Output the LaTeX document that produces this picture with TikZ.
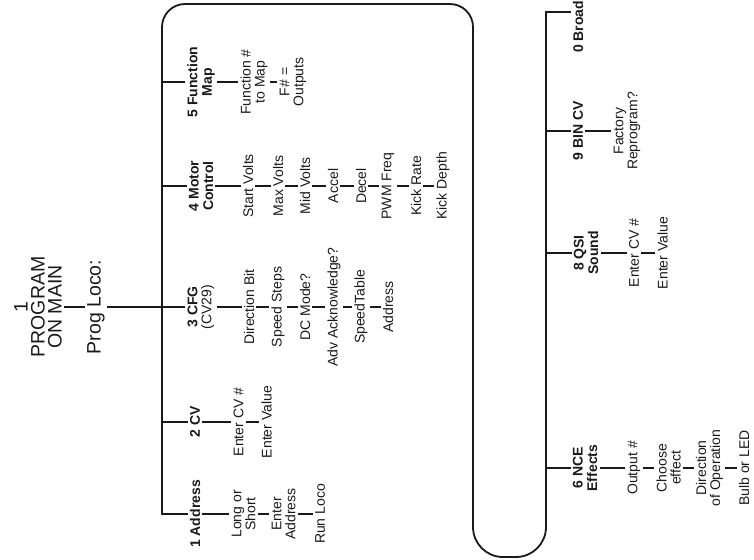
\documentclass[tikz,border=0pt]{standalone}
\usepackage{fontspec}
\setmainfont{Liberation Sans}
\definecolor{ink}{HTML}{1A1A1A}
\begin{document}
\begin{tikzpicture}[x=1pt,y=-1pt,
  txt/.style={rotate=90, align=center, inner xsep=1pt, inner ysep=3pt, text=ink, font=\fontsize{14}{14}\selectfont},
  lbl/.style={txt, font=\bfseries\fontsize{14}{14.5}\selectfont},
  bigtxt/.style={txt, font=\fontsize{19.5}{17}\selectfont},
  ln/.style={draw=ink, line width=1.8pt, line cap=rect}]
\useasboundingbox (0,0) rectangle (754,559);

% title
\node[bigtxt] (T) at (38,307) {1\\PROGRAM\\ON MAIN};
\node[bigtxt] (P) at (96,307) {Prog Loco:};

% bus coordinates
\coordinate (j1) at (162,514);
\coordinate (j2) at (162,422);
\coordinate (j3) at (162,307);
\coordinate (j4) at (162,186);
\coordinate (j5) at (162,82);
\coordinate (c1) at (162,4);
\coordinate (c2) at (473,4);
\coordinate (cm) at (473,300);
\coordinate (c3) at (473,557);
\coordinate (c4) at (546,557);
\coordinate (k6) at (546,468);
\coordinate (k8) at (546,253);
\coordinate (k9) at (546,131);
\coordinate (k0) at (546,12);

% left labels
\node[lbl] (A1) at (195,514) {1 Address};
\node[lbl] (A2) at (195,422) {2 CV};
\node[txt] (A3) at (201,307) {\textbf{3 CFG}\\(CV29)};
\node[lbl] (A4) at (201,186) {4 Motor\\Control};
\node[lbl] (A5) at (201,82) {5 Function\\Map};

% column 1
\node[txt] (a11) at (243.5,514) {Long or\\Short};
\node[txt] (a12) at (283.5,514) {Enter\\Address};
\node[txt] (a13) at (320,514) {Run Loco};
% column 2
\node[txt] (a21) at (238.5,422) {Enter CV \#};
\node[txt] (a22) at (266.5,422) {Enter Value};
% column 3
\node[txt] (a31) at (249,307) {Direction Bit};
\node[txt] (a32) at (278,307) {Speed Steps};
\node[txt] (a33) at (305,307) {DC Mode?};
\node[txt] (a34) at (334,307) {Adv Acknowledge?};
\node[txt] (a35) at (361,307) {SpeedTable};
\node[txt] (a36) at (388,307) {Address};
% column 4
\node[txt] (a41) at (248,186) {Start Volts};
\node[txt] (a42) at (278,186) {Max Volts};
\node[txt] (a43) at (305,186) {Mid Volts};
\node[txt] (a44) at (333,186) {Accel};
\node[txt] (a45) at (361,186) {Decel};
\node[txt] (a46) at (388,186) {PWM Freq};
\node[txt] (a47) at (416,186) {Kick Rate};
\node[txt] (a48) at (443,186) {Kick Depth};
% column 5
\node[txt] (a51) at (254,82) {Function \#\\to Map};
\node[txt] (a52) at (293,82) {F\# =\\Outputs};

% right labels
\node[lbl, anchor=west, inner xsep=0pt] (B0) at (578,53) {0 Broad};
\node[lbl] (B9) at (578,131) {9 BIN CV};
\node[lbl] (B8) at (586,253) {8 QSI\\Sound};
\node[lbl] (B6) at (585,468) {6 NCE\\Effects};

\node[txt] (b91) at (627,131) {Factory\\Reprogram?};
\node[txt] (b81) at (634,253) {Enter CV \#};
\node[txt] (b82) at (662.5,253) {Enter Value};
\node[txt] (b61) at (634,468) {Output \#};
\node[txt] (b62) at (668.5,468) {Choose\\effect};
\node[txt] (b63) at (709.5,468) {Direction\\of Operation};
\node[txt] (b64) at (744,468) {Bulb or LED};

% trunk
\draw[ln] (T.south) -- (P.north);
\draw[ln] (P.south) -- (j3);
\draw[ln, rounded corners=23pt] (j1) -- (c1) -- (c2) -- (cm);
\draw[ln, rounded corners=30pt] (cm) -- (c3) -- (c4) -- (k0);
\draw[ln] (k0) -- (B0.north |- k0);

% branches
\draw[ln] (j1) -- (A1.north);
\draw[ln] (j2) -- (A2.north);
\draw[ln] (j3) -- (A3.north);
\draw[ln] (j4) -- (A4.north);
\draw[ln] (j5) -- (A5.north);
\draw[ln] (k9) -- (B9.north);
\draw[ln] (k8) -- (B8.north);
\draw[ln] (k6) -- (B6.north);

% chains
\draw[ln] (A1.south) -- (a11.north) (a11.south) -- (a12.north) (a12.south) -- (a13.north);
\draw[ln] (A2.south) -- (a21.north) (a21.south) -- (a22.north);
\draw[ln] (A3.south) -- (a31.north) (a31.south) -- (a32.north) (a32.south) -- (a33.north)
  (a33.south) -- (a34.north) (a34.south) -- (a35.north) (a35.south) -- (a36.north);
\draw[ln] (A4.south) -- (a41.north) (a41.south) -- (a42.north) (a42.south) -- (a43.north)
  (a43.south) -- (a44.north) (a44.south) -- (a45.north) (a45.south) -- (a46.north)
  (a46.south) -- (a47.north) (a47.south) -- (a48.north);
\draw[ln] (A5.south) -- (a51.north) (a51.south) -- (a52.north);
\draw[ln] (B9.south) -- (b91.north);
\draw[ln] (B8.south) -- (b81.north) (b81.south) -- (b82.north);
\draw[ln] (B6.south) -- (b61.north) (b61.south) -- (b62.north) (b62.south) -- (b63.north) (b63.south) -- (b64.north);
\end{tikzpicture}
\end{document}
